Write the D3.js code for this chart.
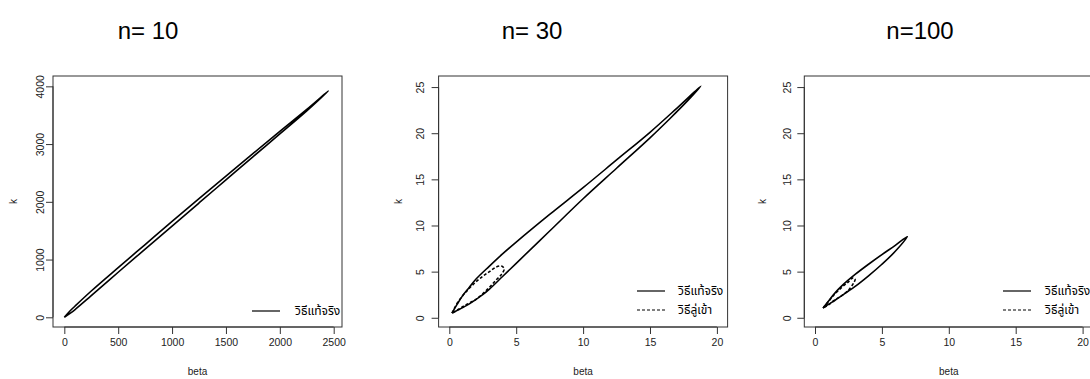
<!DOCTYPE html>
<html><head><meta charset="utf-8">
<script src="https://cdn.jsdelivr.net/npm/d3@7"></script>
<style>
body{margin:0;background:#fff;}
svg{display:block;font-family:"Liberation Sans",Arial,sans-serif;}
.thai{font-family:"Noto Sans Thai","Noto Sans Thai Looped","Tlwg Typo","Loma","Garuda","Noto Sans",sans-serif;}
</style></head>
<body>
<svg id="chart" width="1090" height="379"></svg>
<script>
// ---------- data ----------
const titles = ["n= 10", "n= 30", "n=100"];
const legendLabels = ["วิธีแท้จริง", "วิธีลู่เข้า"];

const xTicks1 = [0, 500, 1000, 1500, 2000, 2500];
const yTicks1 = [0, 1000, 2000, 3000, 4000];
const xTicks23 = [0, 5, 10, 15, 20];
const yTicks23 = [0, 5, 10, 15, 20, 25];

// n=10 exact region (closed loop: upper edge then lower edge back)
const n10ExactBeta = [0, 50, 100, 250, 500, 750, 1000, 1250, 1500, 1750, 2000, 2250, 2450,
                      2250, 2000, 1750, 1500, 1250, 1000, 750, 500, 250, 100, 50, 0];
const n10ExactK    = [0, 105, 195, 455, 860, 1260, 1660, 2055, 2445, 2835, 3220, 3600, 3920,
                      3575, 3175, 2780, 2380, 1980, 1580, 1180, 780, 375, 135, 65, 0];

// n=30 exact region
const n30ExactBeta = [0.2, 0.6, 1, 1.5, 2, 3, 4, 5, 7.5, 10, 12.5, 15, 17, 18.8,
                      17.8, 16.5, 15, 12.5, 10, 7.5, 5, 4, 3, 2.5, 2, 1.5, 1, 0.6, 0.2];
const n30ExactK    = [0.5, 1.5, 2.4, 3.3, 4.2, 5.6, 6.95, 8.2, 11.2, 14.1, 17.1, 20.1, 22.7, 25.1,
                      23.5, 21.6, 19.5, 16.2, 12.9, 9.4, 5.9, 4.5, 3.1, 2.5, 2.0, 1.5, 1.1, 0.8, 0.5];
// n=30 asymptotic region
const n30AsymBeta = [0.2, 0.6, 1, 1.5, 2, 2.5, 3, 3.5, 3.9, 4.1,
                     3.9, 3.5, 3, 2.5, 2, 1.5, 1, 0.6, 0.2];
const n30AsymK    = [0.5, 1.6, 2.4, 3.2, 3.9, 4.5, 5.0, 5.5, 5.6, 5.3,
                     4.7, 4.1, 3.3, 2.6, 2.0, 1.6, 1.2, 0.85, 0.5];

// n=100 exact region
const n100ExactBeta = [0.6, 1.0, 1.5, 2.0, 2.5, 3.0, 4.0, 5.0, 6.0, 6.9,
                       6.0, 5.0, 4.0, 3.0, 2.5, 2.0, 1.5, 1.0, 0.6];
const n100ExactK    = [1.05, 1.8, 2.7, 3.45, 4.1, 4.7, 5.8, 6.85, 7.85, 8.8,
                       7.2, 5.8, 4.55, 3.4, 2.9, 2.4, 1.9, 1.45, 1.05];
// n=100 asymptotic region
const n100AsymBeta = [0.6, 1.0, 1.5, 2.0, 2.5, 2.8, 3.0, 2.9, 2.5, 2.0, 1.5, 1.0, 0.6];
const n100AsymK    = [1.05, 1.75, 2.6, 3.3, 3.9, 4.3, 4.2, 3.8, 3.0, 2.4, 1.95, 1.4, 1.05];

// ---------- layout ----------
const svg = d3.select("#chart");
const boxTop = 76, boxBottom = 327, boxW = 289;

const panels = [
  {left: 53, xDom: [-105, 2577], yDom: [-168, 4179], xTicks: xTicks1, yTicks: yTicks1,
   series: [{b: n10ExactBeta, k: n10ExactK, dash: null}], legendN: 1,
   titleX: 148, yLabX: 40, kX: 13, legLine: [252, 280], legText: 295},
  {left: 438.6, xDom: [-0.8, 20.8], yDom: [-1, 26.2], xTicks: xTicks23, yTicks: yTicks23,
   series: [{b: n30ExactBeta, k: n30ExactK, dash: null}, {b: n30AsymBeta, k: n30AsymK, dash: "3,2"}], legendN: 2,
   titleX: 532, yLabX: 420, kX: 398, legLine: [637, 665], legText: 678},
  {left: 804.3, xDom: [-0.8, 20.8], yDom: [-1, 26.2], xTicks: xTicks23, yTicks: yTicks23,
   series: [{b: n100ExactBeta, k: n100ExactK, dash: null}, {b: n100AsymBeta, k: n100AsymK, dash: "3,2"}], legendN: 2,
   titleX: 920, yLabX: 787, kX: 762, legLine: [1003, 1031], legText: 1045}
];

panels.forEach((p, i) => {
  const x = d3.scaleLinear().domain(p.xDom).range([p.left, p.left + boxW]);
  const y = d3.scaleLinear().domain(p.yDom).range([boxBottom, boxTop]);
  const g = svg.append("g");

  // title
  g.append("text").attr("x", p.titleX).attr("y", 39).attr("text-anchor", "middle")
    .attr("font-size", 24).attr("fill", "#000").text(titles[i]);

  // box
  g.append("rect").attr("x", p.left).attr("y", boxTop).attr("width", boxW).attr("height", boxBottom - boxTop)
    .attr("fill", "none").attr("stroke", "#333").attr("stroke-width", 1);

  // x axis
  const xa = g.append("g").attr("transform", `translate(0,${boxBottom})`)
    .call(d3.axisBottom(x).tickValues(p.xTicks).tickSize(7).tickPadding(5).tickFormat(d3.format("d")));
  xa.select(".domain").attr("d", `M${x(p.xTicks[0])},0H${x(p.xTicks[p.xTicks.length-1])}`).attr("stroke", "#333");
  xa.selectAll(".tick line").attr("stroke", "#333");
  xa.selectAll("text").attr("font-size", 10.5).attr("fill", "#222")
    .attr("font-family", "Liberation Sans, Arial, sans-serif");

  // y axis
  const ya = g.append("g").attr("transform", `translate(${p.left},0)`)
    .call(d3.axisLeft(y).tickValues(p.yTicks).tickSize(7).tickFormat(d3.format("d")));
  ya.select(".domain").attr("d", `M0,${y(p.yTicks[0])}V${y(p.yTicks[p.yTicks.length-1])}`).attr("stroke", "#333");
  ya.selectAll(".tick line").attr("stroke", "#333");
  ya.selectAll("text").remove();
  ya.selectAll(".tick").append("text")
    .attr("transform", `translate(${p.yLabX - p.left},0) rotate(-90)`)
    .attr("text-anchor", "middle").attr("dy", "0.35em")
    .attr("font-size", 10.5).attr("fill", "#222")
    .attr("font-family", "Liberation Sans, Arial, sans-serif")
    .text(d => d);

  // axis titles
  g.append("text").attr("x", p.left + boxW / 2).attr("y", 375).attr("text-anchor", "middle")
    .attr("font-size", 10).attr("fill", "#222").text("beta");
  g.append("text").attr("transform", `translate(${p.kX},${(boxTop + boxBottom) / 2}) rotate(-90)`)
    .attr("text-anchor", "middle").attr("dy", "0.35em")
    .attr("font-size", 10).attr("fill", "#222").text("k");

  // clip for data
  const clipId = "clip" + i;
  svg.append("defs").append("clipPath").attr("id", clipId).append("rect")
    .attr("x", p.left).attr("y", boxTop).attr("width", boxW).attr("height", boxBottom - boxTop);

  const line = d3.line().x(d => x(d[0])).y(d => y(d[1])).curve(d3.curveCatmullRom.alpha(0.5));
  p.series.forEach(s => {
    const pts = s.b.map((b, j) => [b, s.k[j]]);
    g.append("path").attr("d", line(pts)).attr("fill", "none").attr("stroke", "#000")
      .attr("stroke-width", 1.6).attr("stroke-linejoin", "round")
      .attr("stroke-dasharray", s.dash).attr("clip-path", `url(#${clipId})`);
  });

  // legend
  const rows = p.legendN === 1 ? [311] : [291, 310];
  rows.forEach((ry, r) => {
    g.append("line").attr("x1", p.legLine[0]).attr("x2", p.legLine[1]).attr("y1", ry).attr("y2", ry)
      .attr("stroke", "#000").attr("stroke-width", 1.2).attr("stroke-dasharray", r === 1 ? "3,2" : null);
    g.append("text").attr("class", "thai").attr("x", p.legText).attr("y", ry).attr("dy", "0.35em")
      .attr("font-size", 12).attr("fill", "#000").text(legendLabels[r]);
  });
});
</script>
</body></html>
